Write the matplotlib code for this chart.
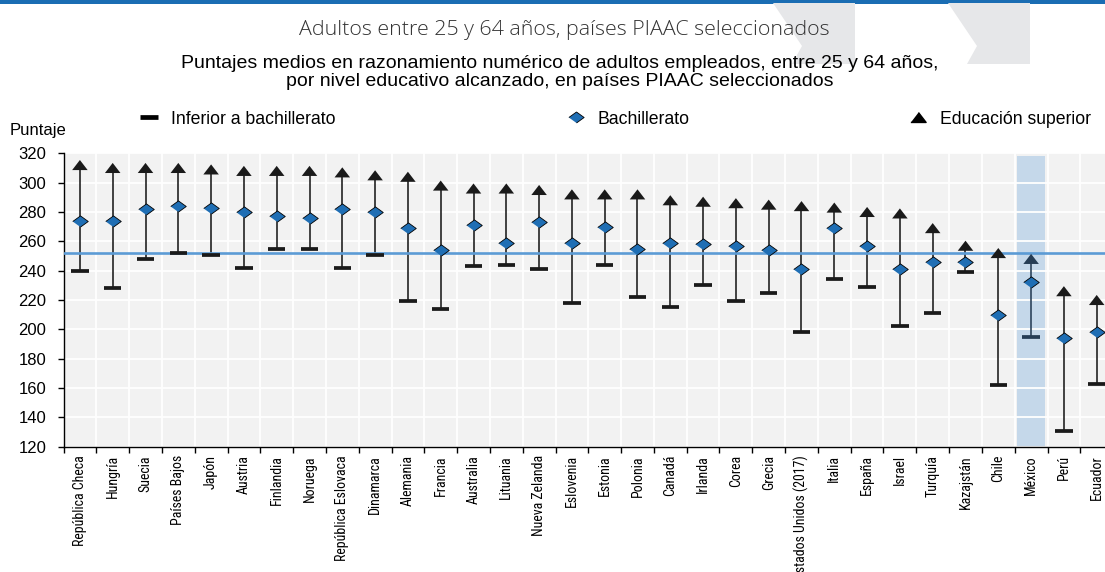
import matplotlib
matplotlib.use('Agg')
import matplotlib.pyplot as plt
from matplotlib import font_manager as fm
from matplotlib.lines import Line2D
from matplotlib.patches import Polygon, Rectangle
import numpy as np

paises = ['República Checa', 'Hungría', 'Suecia', 'Países Bajos', 'Japón', 'Austria',
          'Finlandia', 'Noruega', 'República Eslovaca', 'Dinamarca', 'Alemania', 'Francia',
          'Australia', 'Lituania', 'Nueva Zelanda', 'Eslovenia', 'Estonia', 'Polonia',
          'Canadá', 'Irlanda', 'Corea', 'Grecia', 'Estados Unidos (2017)', 'Italia',
          'España', 'Israel', 'Turquía', 'Kazajstán', 'Chile', 'México', 'Perú', 'Ecuador']
inferior = [240, 228, 248, 252, 251, 242, 255, 255, 242, 251, 219, 214, 243, 244, 241, 218,
            244, 222, 215, 230, 219, 225, 198, 234, 229, 202, 211, 239, 162, 195, 131, 163]
bachillerato = [274, 274, 282, 284, 283, 280, 277, 276, 282, 280, 269, 254, 271, 259, 273, 259,
                270, 255, 259, 258, 257, 254, 241, 269, 257, 241, 246, 246, 210, 232, 194, 198]
superior = [312, 310, 310, 310, 309, 308, 308, 308, 307, 305, 304, 298, 296, 296, 295, 292,
            292, 292, 288, 287, 286, 285, 284, 283, 280, 279, 269, 257, 252, 248, 226, 220]
promedio = 252
resaltado = 'México'
yticks = list(range(120, 321, 20))
leyenda = ['Inferior a bachillerato', 'Bachillerato', 'Educación superior']

# pick installed fonts
installed = {f.name for f in fm.fontManager.ttflist}
def pick(*names):
    for n in names:
        if n in installed:
            return n
    return 'DejaVu Sans'

sans = pick('Liberation Sans', 'Arial')
narrow = pick('Liberation Sans Narrow', 'Roboto Condensed', 'Liberation Sans')
title_font = pick('Open Sans', 'Lato', 'Roboto')
plt.rcParams['font.family'] = [sans, 'DejaVu Sans']

W, H = 1105, 572
fig = plt.figure(figsize=(W / 100, H / 100), dpi=100)

# ---------------- header decoration (pixel coords) ----------------
bg = fig.add_axes([0, 0, 1, 1], zorder=-1)
bg.set_xlim(0, W)
bg.set_ylim(H, 0)
bg.axis('off')
bg.add_patch(Rectangle((0, 0), W, 3.5, color='#1a6db3', lw=0))
for x0 in (773, 948):
    pts = [(x0, 3), (x0 + 82, 3), (x0 + 82, 64), (x0 + 19, 64), (x0 + 29, 46)]
    bg.add_patch(Polygon(pts, closed=True, facecolor='#e6e7e9', edgecolor='none'))

fig.text(564 / W, 1 - 30 / H, 'Adultos entre 25 y 64 años, países PIAAC seleccionados',
         ha='center', va='center', fontsize=15.4, color='#333333',
         family=[title_font, 'DejaVu Sans'], fontweight='light')
fig.text(560 / W, 1 - 72.5 / H,
         'Puntajes medios en razonamiento numérico de adultos empleados, entre 25 y 64 años,\n'
         'por nivel educativo alcanzado, en países PIAAC seleccionados',
         ha='center', va='center', fontsize=14, color='black', linespacing=1.02)
fig.text(10 / W, 1 - 131 / H, 'Puntaje', ha='left', va='center', fontsize=12)

# ---------------- axes ----------------
ax = fig.add_axes([63.5 / W, 1 - 446.7 / H, 1049.6 / W, 293.4 / H])
ax.set_facecolor('#f2f2f2')
x = np.arange(len(paises))
imx = paises.index(resaltado)

ax.axvspan(imx - 0.43, imx + 0.43, ymax=0.99, color='#c5d8ea', zorder=0.2, lw=0)

dark = ['#263d55' if p == resaltado else '#1a1a1a' for p in paises]
ax.vlines(x, inferior, superior, colors=dark, lw=1.15, zorder=2)
ax.axhline(promedio, color='#5b9bd5', lw=1.9, zorder=3)

tri = [(-1, -0.65), (1, -0.65), (0, 0.65)]
dia = [(-1, 0), (0, 0.72), (1, 0), (0, -0.72)]
ax.scatter(x, inferior, marker='_', s=160, linewidths=2.7, c=dark, zorder=4)
ax.scatter(x, superior, marker=tri, s=125, c=dark, linewidths=0, zorder=5)
ax.scatter(x, bachillerato, marker=dia, s=125, c='#1f6eb4', edgecolors='black',
           linewidths=0.6, zorder=6)

ax.set_xlim(-0.5, len(paises) - 0.5)
ax.set_ylim(120, 320)
ax.set_yticks(yticks)
ax.set_xticks(x)
ax.set_xticklabels(paises, rotation=90, fontsize=10, family=[narrow, 'DejaVu Sans'])
ax.set_xticks(np.arange(len(paises) + 1) - 0.5, minor=True)

ax.set_axisbelow(True)
ax.yaxis.grid(True, color='white', lw=1.3)
ax.xaxis.grid(True, which='minor', color='white', lw=1.3)
ax.xaxis.grid(False, which='major')
ax.tick_params(axis='x', which='major', length=0, pad=6)
ax.tick_params(axis='x', which='minor', length=4, width=1, color='black')
ax.tick_params(axis='y', length=4.3, width=1, color='black', labelsize=12, pad=8)
for s in ('top', 'right'):
    ax.spines[s].set_visible(False)
for s in ('left', 'bottom'):
    ax.spines[s].set_color('black')
    ax.spines[s].set_linewidth(1)

# ---------------- legend: three single entries ----------------
handles = [
    Line2D([], [], ls='none', marker='_', markersize=13, markeredgewidth=3.4, color='black'),
    Line2D([], [], ls='none', marker=dia, markersize=11, markerfacecolor='#1f6eb4',
           markeredgecolor='black', markeredgewidth=0.6),
    Line2D([], [], ls='none', marker=tri, markersize=11, color='black'),
]
for h, lab, xpx in zip(handles, leyenda, (139, 566, 908)):
    fig.legend([h], [lab], loc='center left',
               bbox_to_anchor=(xpx / W, 1 - 119 / H), frameon=False,
               fontsize=12.7, handlelength=1.1, handletextpad=0.7,
               borderpad=0, borderaxespad=0)

fig.savefig('out.png', dpi=100)
